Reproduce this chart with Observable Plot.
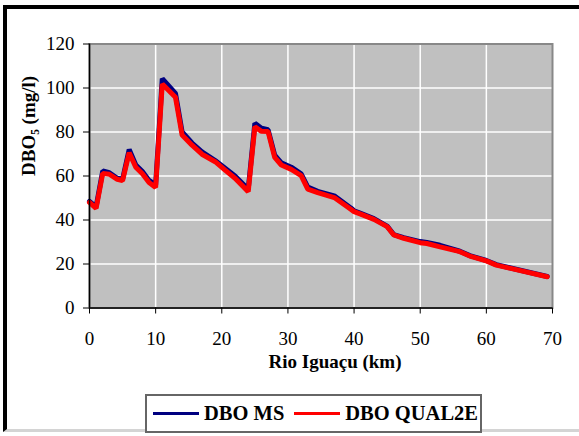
<!DOCTYPE html>
<html>
<head>
<meta charset="utf-8">
<script src="https://cdn.jsdelivr.net/npm/d3@7"></script>
<script src="https://cdn.jsdelivr.net/npm/@observablehq/plot@0.6"></script>
<style>
  html, body { margin: 0; padding: 0; background: #fff; }
  body { width: 579px; height: 436px; position: relative; overflow: hidden; font-family: "Liberation Serif", "DejaVu Serif", serif; }
  #frame { position: absolute; left: 3px; top: 5px; width: 620px; height: 427px; border-left: 4px solid #000; border-top: 4px solid #000; border-bottom: 3px solid #d4d4d4; box-sizing: border-box; }
  #chart { position: absolute; left: 0; top: 0; }
  #chart svg, #chart svg text { font-family: "Liberation Serif", "DejaVu Serif", serif !important; }
  #legend { position: absolute; left: 145px; top: 394px; width: 337px; height: 39px; border: 2px solid #666; box-sizing: border-box; background: #fff; display: flex; align-items: center; font-weight: bold; font-size: 20.5px; color: #000; font-family: "Liberation Serif", "DejaVu Serif", serif; }
  .item { display: flex; align-items: center; }
  .swatch { width: 46px; height: 3px; margin-right: 5px; }
</style>
</head>
<body>
<div id="frame"></div>
<div id="chart"></div>
<div id="legend"></div>
<script>
const km = [0,1,2,3,4.2,5,6,7,8,9,10,11,13,14,15.5,17,19,20.5,22,24,25,26,27,28,29,30.5,32,33,34.5,37,39.5,40,41,43,45,46,47.5,50,51,53,56,57.5,60,61.5,69.2];
const dboMS = [48.5,46,62.3,61.5,59,58.5,72,65,62,58,56,104.3,97.5,80,75,71,67,63.5,60,54,84,81.7,81,69.5,66,64,61,55,53,51,45.5,44.2,43,40.6,37.2,33.4,32,30.2,29.8,28.5,25.8,23.8,21.6,19.7,14.3];
const dboQ2E = [48,45.3,61.2,60.8,58.5,57.9,70.6,64,61,57,54.8,101.8,95.8,78.6,74,69.9,66.5,62.7,59,52.9,82.4,80.3,80.2,68.5,65,63,60.2,54,52.4,50.2,44.9,43.8,42.7,40.3,37,33.2,31.7,29.7,29.3,27.8,25.6,23.6,21.4,19.5,14.2];
const seriesNames = ["DBO MS", "DBO QUAL2E"];
const seriesColors = ["#000080", "#ff0000"];
const xTicks = [0,10,20,30,40,50,60,70];
const yTicks = [0,20,40,60,80,100,120];
const xLabel = "Rio Iguaçu (km)";
const yLabel = "DBO₅ (mg/l)";

const seriesValues = [dboMS, dboQ2E];
const rows = seriesNames.flatMap((name, j) => km.map((k, i) => ({km: k, v: seriesValues[j][i], s: name})));

const chart = Plot.plot({
  width: 579,
  height: 395,
  marginLeft: 89,
  marginRight: 27,
  marginTop: 43.5,
  marginBottom: 87.5,
  x: {domain: [0, 70]},
  y: {domain: [0, 120]},
  color: {domain: seriesNames, range: seriesColors},
  style: {fontFamily: "Liberation Serif, DejaVu Serif, serif", fontSize: "19px", color: "#000", background: "transparent", overflow: "visible"},
  marks: [
    Plot.frame({fill: "#c0c0c0"}),
    Plot.gridX(xTicks.slice(1, -1), {stroke: "#fff", strokeOpacity: 1, strokeWidth: 1.5}),
    Plot.gridY(yTicks.slice(1, -1), {stroke: "#fff", strokeOpacity: 1, strokeWidth: 1.5}),
    Plot.frame({stroke: "#888", strokeWidth: 2}),
    Plot.line(rows, {x: "km", y: "v", z: "s", stroke: "s", strokeWidth: 5, strokeLinejoin: "miter"}),
    Plot.ruleX([0], {stroke: "#000", strokeWidth: 1.5}),
    Plot.ruleY([0], {stroke: "#000", strokeWidth: 1.5}),
    Plot.axisX(xTicks, {tickSize: 6, tickPadding: 17, label: null, stroke: "#000", fill: "#000"}),
    Plot.axisY(yTicks, {tickSize: 6, tickPadding: 9, label: null, stroke: "#000", fill: "#000"}),
    Plot.text([xLabel], {frameAnchor: "bottom", dy: 60, dx: 14, fontWeight: "bold", fontSize: 19, fill: "#000"}),
    Plot.text([yLabel], {frameAnchor: "left", rotate: -90, dx: -61, fontWeight: "bold", fontSize: 19, fill: "#000"})
  ]
});
document.getElementById("chart").appendChild(chart);

const legend = document.getElementById("legend");
seriesNames.forEach((name, i) => {
  const item = document.createElement("div");
  item.className = "item";
  item.style.marginLeft = i === 0 ? "6px" : "10px";
  const sw = document.createElement("div");
  sw.className = "swatch";
  sw.style.background = seriesColors[i];
  const lab = document.createElement("span");
  lab.textContent = name;
  item.appendChild(sw);
  item.appendChild(lab);
  legend.appendChild(item);
});
</script>
</body>
</html>
